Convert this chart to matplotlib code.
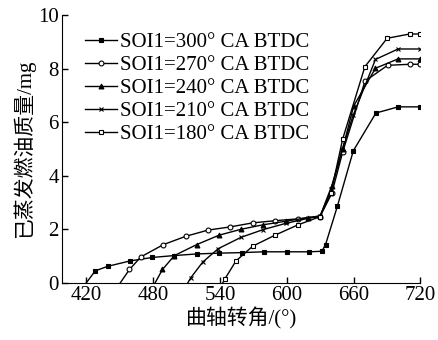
import matplotlib
matplotlib.use("Agg")
import matplotlib.pyplot as plt

plt.rcParams['font.family'] = ['Liberation Serif', 'Noto Sans CJK SC']

# crank angle / evaporated fuel mass
ca_300 = [420, 428.1, 439.4, 459.4, 479.4, 499.1, 519.2, 539.5, 559.5, 579.5, 599.9, 619.9, 631.5, 634.8, 645.4, 659.7, 680, 700, 720]
m_300 = [0, 0.45, 0.62, 0.82, 0.95, 1.02, 1.08, 1.11, 1.13, 1.16, 1.16, 1.16, 1.18, 1.43, 2.86, 4.93, 6.34, 6.57, 6.57]

ca_270 = [450.5, 458.8, 469, 489.3, 509.4, 529.3, 549.3, 569.4, 589.4, 609.7, 629.7, 640.4, 650.2, 670.2, 690.5, 710.6, 720]
m_270 = [0, 0.5, 0.97, 1.43, 1.74, 1.97, 2.09, 2.24, 2.32, 2.39, 2.47, 3.34, 4.89, 7.53, 8.12, 8.16, 8.16]

ca_240 = [481.8, 488.4, 499.1, 519.2, 539.2, 558.9, 578.9, 599, 619.2, 630, 640.2, 650.1, 660, 679.6, 699.9, 720]
m_240 = [0, 0.5, 1.02, 1.43, 1.78, 2.0, 2.17, 2.3, 2.44, 2.5, 3.6, 5.0, 6.6, 8.01, 8.36, 8.36]

ca_210 = [511.1, 513.8, 524.6, 538.6, 558.9, 578.9, 599, 619.2, 630, 640, 650, 659.6, 679.6, 699.9, 720]
m_210 = [0, 0.19, 0.78, 1.28, 1.7, 1.99, 2.22, 2.41, 2.5, 3.5, 5.0, 6.26, 8.34, 8.73, 8.73]

ca_180 = [542.5, 544.6, 554.4, 569.4, 589.4, 609.7, 629.7, 639.6, 650.1, 670.1, 690.1, 710.4, 720]
m_180 = [0, 0.16, 0.82, 1.37, 1.78, 2.16, 2.47, 3.34, 5.36, 8.07, 9.13, 9.29, 9.29]

labels = ['SOI1=300° CA BTDC', 'SOI1=270° CA BTDC', 'SOI1=240° CA BTDC',
          'SOI1=210° CA BTDC', 'SOI1=180° CA BTDC']

fig = plt.figure(figsize=(4.38, 3.40), dpi=100)
ax = fig.add_axes([0.141, 0.168, 0.819, 0.788])

series = [(ca_300, m_300, 's', 'black'),
          (ca_270, m_270, 'o', 'white'),
          (ca_240, m_240, '^', 'black'),
          (ca_210, m_210, 'x', 'black'),
          (ca_180, m_180, 's', 'white')]

for (x, y, mk, fc), lab in zip(series, labels):
    ax.plot(x, y, color='black', lw=1.0, marker=mk, markersize=3.5,
            markerfacecolor=fc, markeredgecolor='black', markeredgewidth=0.8,
            markevery=list(range(1, len(x))), label=lab)

ax.set_xlim(398, 720)
ax.set_ylim(0, 10)
ax.set_xticks([420, 480, 540, 600, 660, 720])
ax.set_yticks([0, 2, 4, 6, 8, 10])
ax.spines['top'].set_visible(False)
ax.spines['right'].set_visible(False)
ax.tick_params(direction='in', length=4.5, width=1, labelsize=15, pad=2)
ax.set_xlabel('曲轴转角/(°)', fontsize=15, labelpad=2)
ax.set_ylabel('已蒸发燃油质量/mg', fontsize=15, labelpad=2)

ax.legend(loc='upper left', bbox_to_anchor=(0.194, 0.905), bbox_transform=fig.transFigure,
          frameon=False, fontsize=15, handlelength=1.54, handletextpad=0.15,
          labelspacing=0.17, borderaxespad=0, borderpad=0)

fig.savefig('out.png', dpi=100)
